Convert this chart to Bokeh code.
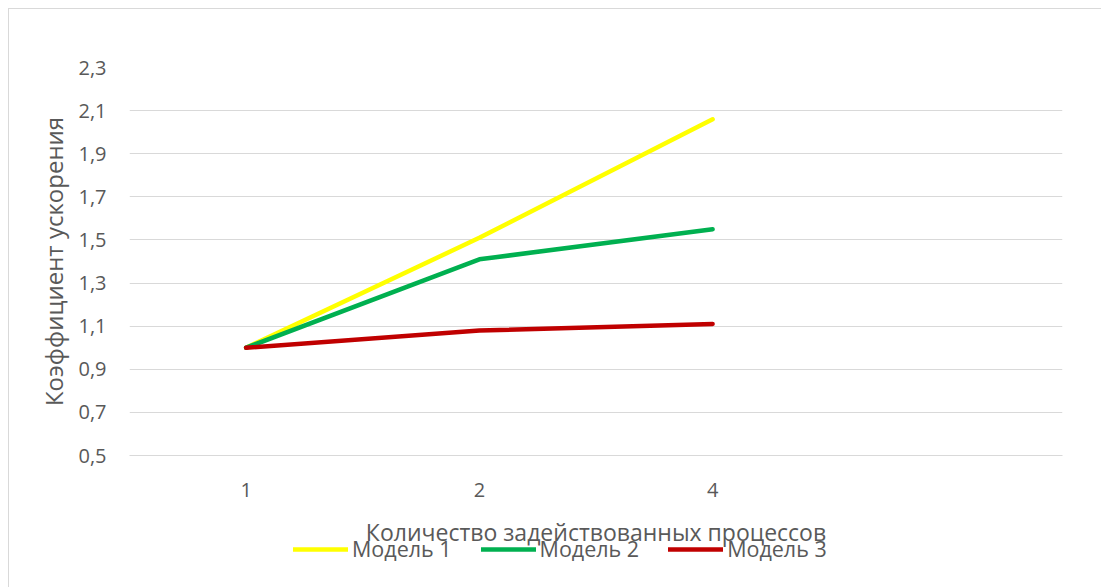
from bokeh.plotting import figure
from bokeh.layouts import column
from bokeh.models import (FactorRange, Range1d, FixedTicker, CustomJSTickFormatter,
                          Legend, LegendItem, ColumnDataSource)
from bokeh.embed import file_html
from bokeh.resources import INLINE

# ---- data ----
categories = ["1", "2", "4", " "]
x_points = ["1", "2", "4"]
model1 = [1.0, 1.51, 2.06]
model2 = [1.0, 1.41, 1.55]
model3 = [1.0, 1.08, 1.11]
series_names = ["Модель 1", "Модель 2", "Модель 3"]
y_ticks = [0.5, 0.7, 0.9, 1.1, 1.3, 1.5, 1.7, 1.9, 2.1, 2.3]
x_title = "Количество задействованных процессов"
y_title = "Коэффициент ускорения"

colors = ["#FFFF00", "#00B050", "#C00000"]
FONT = "Open Sans"
TXT = "#595959"
BORDER = "1px solid #d9d9d9"

# ---- main chart ----
p = figure(width=1093, height=541, x_range=FactorRange(*categories),
           y_range=Range1d(0.5, 2.3), output_backend="svg", toolbar_location=None,
           min_border_left=120, min_border_top=58, min_border_right=40, min_border_bottom=92,
           margin=(8, 0, 0, 8),
           styles={"border-top": BORDER, "border-left": BORDER})
p.outline_line_color = None
p.background_fill_color = "white"
p.border_fill_color = "white"

sources = []
for vals, c in zip([model1, model2, model3], colors):
    src = ColumnDataSource(dict(x=x_points, y=vals))
    sources.append(src)
    p.line("x", "y", source=src, line_color=c, line_width=4.5, line_cap="round", line_join="round")

p.xgrid.grid_line_color = None
p.ygrid.grid_line_color = "#d9d9d9"
p.ygrid.grid_line_width = 1.2
p.yaxis.ticker = FixedTicker(ticks=y_ticks)
p.yaxis.formatter = CustomJSTickFormatter(code="return tick.toFixed(1).replace('.', ',');")

for ax in (p.xaxis[0], p.yaxis[0]):
    ax.axis_line_color = None
    ax.major_tick_line_color = None
    ax.minor_tick_line_color = None
    ax.major_tick_out = 0
    ax.major_tick_in = 0
    ax.minor_tick_out = 0
    ax.major_label_text_font = FONT
    ax.major_label_text_color = TXT
    ax.major_label_text_font_size = "20px"
    ax.axis_label_text_font = FONT
    ax.axis_label_text_color = TXT
    ax.axis_label_text_font_style = "normal"
p.xaxis.axis_label_text_font_size = "23px"
p.yaxis.axis_label_text_font_size = "24px"
p.xaxis.axis_line_color = "#d9d9d9"
p.xaxis.axis_line_width = 1.2

p.xaxis.axis_label = x_title
p.yaxis.axis_label = y_title
p.xaxis.major_label_standoff = 20
p.xaxis.axis_label_standoff = 10
p.yaxis.major_label_standoff = 23
p.yaxis.axis_label_standoff = 5

# ---- legend strip (same sources, drawn out of view; only the legend shows) ----
p2 = figure(width=1093, height=77, x_range=FactorRange(*categories),
            y_range=Range1d(100, 101), output_backend="svg", toolbar_location=None,
            min_border_left=0, min_border_right=0, min_border_top=0, min_border_bottom=0,
            margin=(-39, 0, 0, 8), styles={"border-left": BORDER})
p2.axis.visible = False
p2.grid.visible = False
p2.outline_line_color = None
p2.background_fill_color = None
p2.border_fill_color = None

leg_renderers = []
for src, c in zip(sources, colors):
    r = p2.line("x", "y", source=src, line_color=c, line_width=4.5, line_cap="round")
    leg_renderers.append(r)

legend = Legend(items=[LegendItem(label=n, renderers=[r]) for n, r in zip(series_names, leg_renderers)],
                orientation="horizontal", location=(164, 24))
legend.label_text_font = FONT
legend.label_text_color = TXT
legend.label_text_font_size = "21.5px"
legend.glyph_width = 55
legend.label_standoff = 4
legend.spacing = 29
legend.padding = 0
legend.margin = 0
legend.border_line_color = None
legend.background_fill_alpha = 0
p2.add_layout(legend)

layout = column(p, p2, spacing=0)
open("out.html", "w").write(file_html(layout, INLINE))
